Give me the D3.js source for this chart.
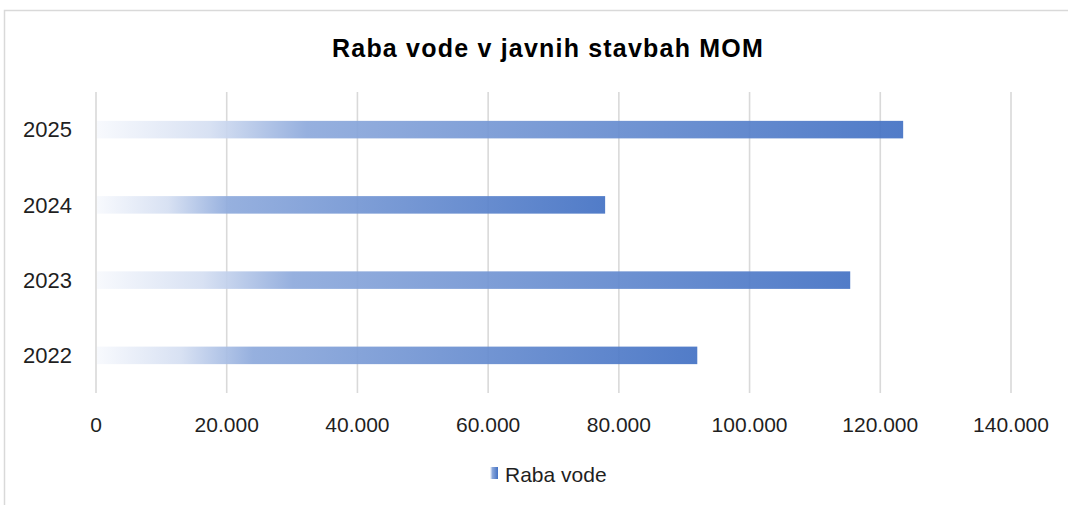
<!DOCTYPE html>
<html>
<head>
<meta charset="utf-8">
<script src="https://cdn.jsdelivr.net/npm/d3@7"></script>
<style>
  body { margin: 0; background: #fff; }
  svg { display: block; font-family: "Liberation Sans", Arial, sans-serif; }
</style>
</head>
<body>
<div id="chart"></div>
<script>
// data
var years = ["2022", "2023", "2024", "2025"];
var values = [92000, 115400, 77900, 123500];
var xTicks = [0, 20000, 40000, 60000, 80000, 100000, 120000, 140000];
var title = "Raba vode v javnih stavbah MOM";
var seriesName = "Raba vode";

var width = 1068, height = 505;
var svg = d3.select("#chart").append("svg")
    .attr("width", width)
    .attr("height", height);

// outer chart border (runs off the right and bottom of the picture)
svg.append("rect")
    .attr("x", 4.5).attr("y", 10.5)
    .attr("width", 1100).attr("height", 540)
    .attr("fill", "#fff")
    .attr("stroke", "#d9d9d9")
    .attr("stroke-width", 1.5);

var defs = svg.append("defs");
var grad = defs.append("linearGradient")
    .attr("id", "barGrad")
    .attr("x1", "0%").attr("x2", "100%").attr("y1", "0%").attr("y2", "0%");
grad.append("stop").attr("offset", "0%").attr("stop-color", "#f7f9fd");
grad.append("stop").attr("offset", "14%").attr("stop-color", "#d5dff2");
grad.append("stop").attr("offset", "26%").attr("stop-color", "#8eaadc");
grad.append("stop").attr("offset", "100%").attr("stop-color", "#4472c4");

var x = d3.scaleLinear().domain([0, 140000]).range([96, 1011]);
var y = d3.scaleBand().domain(years.slice().reverse()).range([92, 393]).paddingInner(0.767).paddingOuter(0.3835);

// gridlines
svg.append("g").selectAll("line")
    .data(xTicks).enter()
    .append("line")
    .attr("x1", function(d){ return x(d); })
    .attr("x2", function(d){ return x(d); })
    .attr("y1", 92).attr("y2", 393)
    .attr("stroke", "#d9d9d9")
    .attr("stroke-width", 1.6);

// bars
svg.append("g").selectAll("rect")
    .data(years).enter()
    .append("rect")
    .attr("x", x(0) + 1)
    .attr("y", function(d){ return y(d); })
    .attr("width", function(d, i){ return x(values[i]) - x(0) - 1; })
    .attr("height", y.bandwidth())
    .attr("fill", "url(#barGrad)")
    .attr("fill-opacity", 0.93);

// category labels
svg.append("g").selectAll("text")
    .data(years).enter()
    .append("text")
    .attr("x", 72)
    .attr("y", function(d){ return y(d) + y.bandwidth() / 2; })
    .attr("dy", "0.35em")
    .attr("text-anchor", "end")
    .attr("font-size", 22)
    .attr("fill", "#1f1f1f")
    .text(function(d){ return d; });

// value axis labels, with dot as thousands separator
var fmt = d3.formatLocale({ decimal: ",", thousands: ".", grouping: [3], currency: ["", "€"] }).format(",d");
svg.append("g").selectAll("text")
    .data(xTicks).enter()
    .append("text")
    .attr("x", function(d){ return x(d); })
    .attr("y", 425)
    .attr("dy", "0.35em")
    .attr("text-anchor", "middle")
    .attr("font-size", 21)
    .attr("fill", "#1f1f1f")
    .text(function(d){ return fmt(d); });

// title
svg.append("text")
    .attr("x", 548).attr("y", 48)
    .attr("dy", "0.35em")
    .attr("text-anchor", "middle")
    .attr("font-size", 25)
    .attr("font-weight", "bold")
    .attr("letter-spacing", 1.2)
    .attr("fill", "#000")
    .text(title);

// legend
var lg = svg.append("g");
lg.append("rect")
    .attr("x", 490).attr("y", 467)
    .attr("width", 8).attr("height", 12)
    .attr("fill", "url(#barGrad)");
lg.append("text")
    .attr("x", 505).attr("y", 475)
    .attr("dy", "0.35em")
    .attr("font-size", 21)
    .attr("fill", "#1f1f1f")
    .text(seriesName);
</script>
</body>
</html>
